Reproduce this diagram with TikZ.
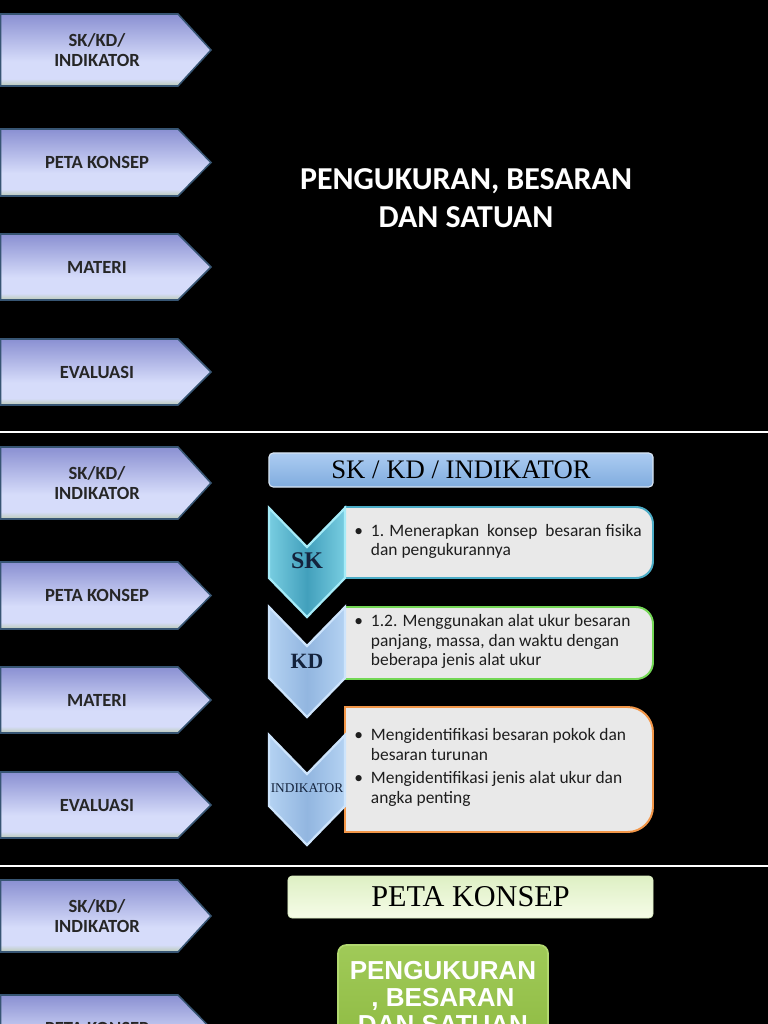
\documentclass[tikz,border=0pt]{standalone}
\usepackage{fontspec}
\setmainfont{Carlito}
\newfontfamily\serifface{Liberation Serif}
\newfontfamily\arialface{Liberation Sans}
\usepackage{xcolor}
\usepackage{tikz}
\usetikzlibrary{positioning}

\definecolor{tabtop}{RGB}{138,144,210}
\definecolor{tabmid}{RGB}{214,220,250}
\definecolor{tabbot}{RGB}{186,202,180}
\definecolor{tabline}{RGB}{55,85,115}
\definecolor{tabink}{RGB}{38,38,38}
\definecolor{skteal}{RGB}{66,160,188}
\definecolor{skedge}{RGB}{120,205,225}
\definecolor{skglow}{RGB}{165,235,248}
\definecolor{kdblue}{RGB}{146,182,224}
\definecolor{kdedge}{RGB}{180,210,242}
\definecolor{kdglow}{RGB}{205,228,252}
\definecolor{chevink}{RGB}{20,35,60}
\definecolor{boxgrey}{RGB}{233,233,233}
\definecolor{boxink}{RGB}{30,30,30}
\definecolor{skline}{RGB}{75,172,198}
\definecolor{kdline}{RGB}{115,215,85}
\definecolor{indline}{RGB}{242,150,72}
\definecolor{bartop}{RGB}{172,204,242}
\definecolor{barbot}{RGB}{128,172,222}
\definecolor{barline}{RGB}{215,228,242}
\definecolor{petatop}{RGB}{222,240,196}
\definecolor{petabot}{RGB}{246,252,232}
\definecolor{leaf}{RGB}{142,186,66}
\definecolor{leaftop}{RGB}{160,202,88}
\definecolor{leafline}{RGB}{178,216,112}

\pgfdeclareverticalshading{tabshade}{100bp}{%
  color(0bp)=(tabbot); color(25bp)=(tabbot); color(30bp)=(tabmid);
  color(42bp)=(tabmid); color(75bp)=(tabtop); color(100bp)=(tabtop)}

\begin{document}
\begin{tikzpicture}[
  x=0.025cm, y=-0.025cm,
  tab/.style={draw=tabline, line width=1.1pt, shade, shading=tabshade},
  tabtext/.style={font=\fontsize{13.2}{14.5}\selectfont\bfseries,
                  text=tabink, align=center, inner sep=0pt},
  title/.style={font=\fontsize{22.7}{27}\selectfont\bfseries, text=white,
                align=center, inner sep=0pt},
  sep/.style={draw=white, line width=1.1pt},
  chev/.style={line width=1.6pt},
  skchev/.style={chev, draw=skglow, left color=skedge, right color=skedge,
                 middle color=skteal},
  kdchev/.style={chev, draw=kdglow, left color=kdedge, right color=kdedge,
                 middle color=kdblue},
  chevtext/.style={font=\serifface\bfseries, text=chevink, inner sep=0pt},
  txtbox/.style={fill=boxgrey, line width=1.4pt},
  boxtext/.style={font=\fontsize{12.4}{14.2}\selectfont, text=boxink,
                  anchor=west, inner sep=0pt},
  headbar/.style={draw=barline, line width=0.8pt, rounded corners=3pt,
                  top color=bartop, bottom color=barbot,
                  minimum width=9.6cm, minimum height=0.85cm, inner sep=0pt,
                  font=\serifface\fontsize{19}{20}\selectfont, text=black},
  petabar/.style={draw=petatop, line width=0.6pt, rounded corners=3pt,
                  top color=petatop, bottom color=petabot,
                  minimum width=9.125cm, minimum height=1.05cm, inner sep=0pt,
                  font=\serifface\fontsize{21.5}{22}\selectfont, text=black},
  leafbox/.style={draw=leafline, line width=1.2pt, rounded corners=6pt,
                  top color=leaftop, bottom color=leaf,
                  minimum width=5.25cm, minimum height=2.65cm, inner sep=0pt,
                  align=center, text=white,
                  font=\arialface\bfseries\fontsize{18.5}{19.2}\selectfont},
]

% --- page and black ground ---
\useasboundingbox (0,0) rectangle (768,1024);
\clip (0,0) rectangle (768,1024);
\fill[black] (0,0) rectangle (768,1024);

% --- slide dividers ---
\draw[sep] (0,432) -- (768,432);
\draw[sep] (0,866) -- (768,866);

% =========================================================
% Slide 1 -- title
% =========================================================
\path[tab] (0.5,14) -- (178,14) -- (211,50) -- (178,86) -- (0.5,86) -- cycle;
\node[tabtext] (s1sk) at (97,50) {SK/KD/\\INDIKATOR};
\path[tab] (0.5,129) -- (178,129) -- (211,162.5) -- (178,196) -- (0.5,196) -- cycle;
\node[tabtext] (s1peta) at (97,162.5) {PETA KONSEP};
\path[tab] (0.5,234) -- (178,234) -- (211,267) -- (178,300) -- (0.5,300) -- cycle;
\node[tabtext] (s1mat) at (97,267) {MATERI};
\path[tab] (0.5,339) -- (178,339) -- (211,372) -- (178,405) -- (0.5,405) -- cycle;
\node[tabtext] (s1eval) at (97,372) {EVALUASI};

\node[title] (s1title) at (466,198) {PENGUKURAN, BESARAN\\DAN SATUAN};

% =========================================================
% Slide 2 -- SK / KD / INDIKATOR
% =========================================================
\path[tab] (0.5,447) -- (178,447) -- (211,483) -- (178,519) -- (0.5,519) -- cycle;
\node[tabtext] (s2sk) at (97,483) {SK/KD/\\INDIKATOR};
\path[tab] (0.5,562) -- (178,562) -- (211,595.5) -- (178,629) -- (0.5,629) -- cycle;
\node[tabtext] (s2peta) at (97,595.5) {PETA KONSEP};
\path[tab] (0.5,667) -- (178,667) -- (211,700) -- (178,733) -- (0.5,733) -- cycle;
\node[tabtext] (s2mat) at (97,700) {MATERI};
\path[tab] (0.5,772) -- (178,772) -- (211,805) -- (178,838) -- (0.5,838) -- cycle;
\node[tabtext] (s2eval) at (97,805) {EVALUASI};

\node[headbar] (s2head) at (461,470) {SK / KD / INDIKATOR};

% text boxes, square on the left, rounded on the right
\path[txtbox, draw=skline] (500,507) [rounded corners=12] -- (653,507)
  -- (653,578) -- (500,578) [sharp corners] -- (345,578) -- (345,507) -- cycle;
\path[txtbox, draw=kdline] (500,607) [rounded corners=12] -- (653,607)
  -- (653,679) -- (500,679) [sharp corners] -- (345,679) -- (345,607) -- cycle;
\path[txtbox, draw=indline] (500,707) [rounded corners=18] -- (653,707)
  -- (653,832) -- (500,832) [sharp corners] -- (345,832) -- (345,707) -- cycle;

% chevrons
\path[skchev] (269,508) -- (307,547) -- (345,508) -- (345,578) -- (307,617)
  -- (269,578) -- cycle;
\node[chevtext, font=\serifface\bfseries\fontsize{17}{17}\selectfont] (sk) at (307,561) {SK};
\path[kdchev] (269,607) -- (307,646) -- (345,607) -- (345,678) -- (307,717)
  -- (269,678) -- cycle;
\node[chevtext, font=\serifface\bfseries\fontsize{15.5}{15.5}\selectfont] (kd) at (307,661) {KD};
\path[kdchev] (269,735) -- (307,774) -- (345,735) -- (345,806) -- (307,845)
  -- (269,806) -- cycle;
\node[chevtext, font=\serifface\fontsize{9.5}{9.5}\selectfont] (ind) at (307,788) {INDIKATOR};

\node[boxtext] (sktext) at (354,542) {%
  \begin{tabular}{@{}l@{\hspace{5.7pt}}l@{}}
  \textbullet & 1. Menerapkan\ \ konsep\ \ besaran fisika\\
              & dan pengukurannya
  \end{tabular}};
\node[boxtext] (kdtext) at (354,642) {%
  \begin{tabular}{@{}l@{\hspace{5.7pt}}l@{}}
  \textbullet & 1.2. Menggunakan alat ukur besaran\\
              & panjang, massa, dan waktu dengan\\
              & beberapa jenis alat ukur
  \end{tabular}};
\node[boxtext] (indtext) at (354,768) {%
  \begin{tabular}{@{}l@{\hspace{5.7pt}}l@{}}
  \textbullet & Mengidentifikasi besaran pokok dan\\
              & besaran turunan\\[2pt]
  \textbullet & Mengidentifikasi jenis alat ukur dan\\
              & angka penting
  \end{tabular}};

% =========================================================
% Slide 3 -- PETA KONSEP
% =========================================================
\path[tab] (0.5,880) -- (178,880) -- (211,916) -- (178,952) -- (0.5,952) -- cycle;
\node[tabtext] (s3sk) at (97,916) {SK/KD/\\INDIKATOR};
\path[tab] (0.5,995) -- (178,995) -- (211,1028.5) -- (178,1062) -- (0.5,1062) -- cycle;
\node[tabtext] (s3peta) at (97,1028.5) {PETA KONSEP};

\node[petabar] (s3head) at (470.5,897) {PETA KONSEP};
\node[leafbox] (s3main) at (443,998) {PENGUKURAN\\, BESARAN\\DAN SATUAN};

\end{tikzpicture}
\end{document}
